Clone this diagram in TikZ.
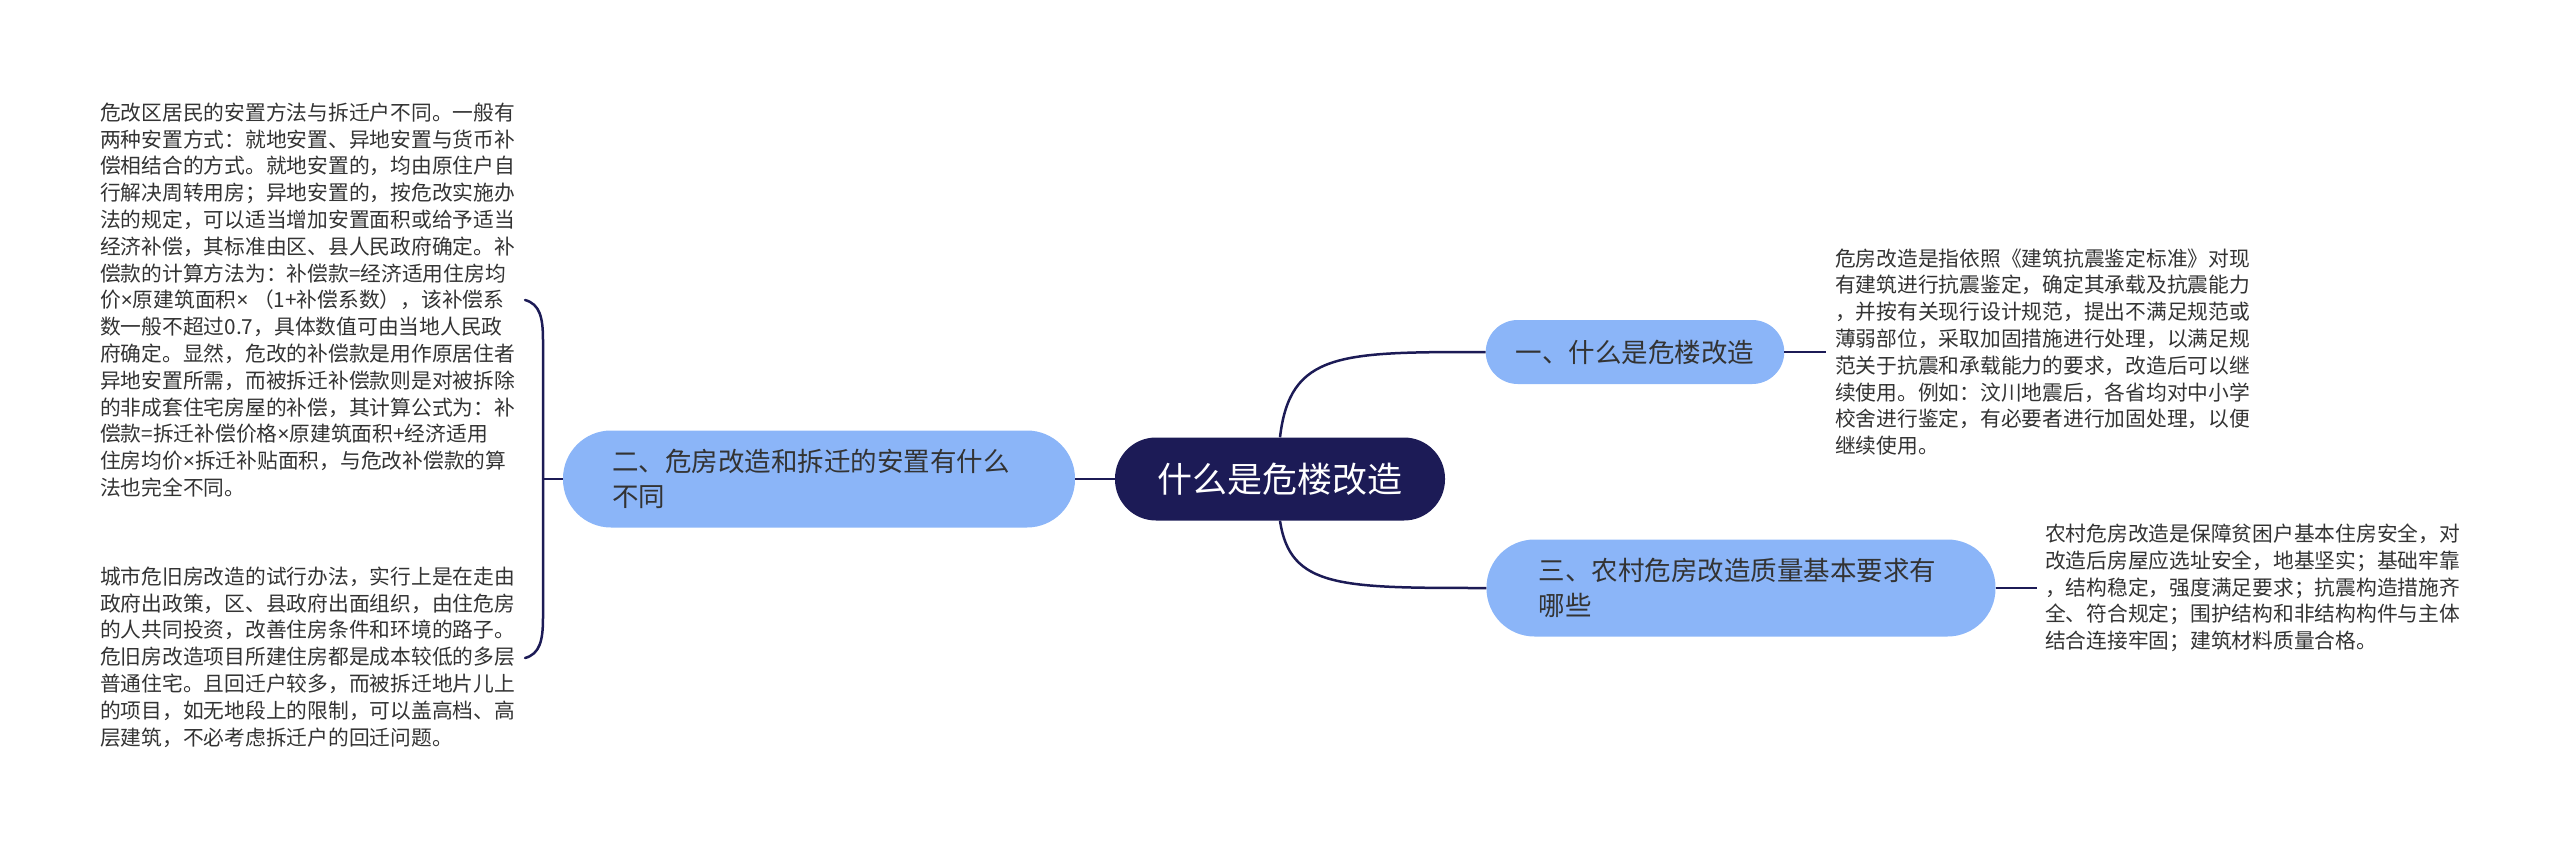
\documentclass[tikz,border=0pt]{standalone}
\usepackage{fontspec}
\setmainfont{Noto Sans CJK SC}
\newfontfamily\latinfont{Noto Sans}
\newcommand{\mul}{{\latinfont ×}}
\usetikzlibrary{positioning}

\definecolor{navy}{HTML}{1C1B56}
\definecolor{skyblue}{HTML}{8BB5F8}
\definecolor{inkgray}{HTML}{333333}

\begin{document}
\begin{tikzpicture}[x=1pt,y=-1pt,
  rootnode/.style={fill=navy, text=white, rounded corners=41pt, minimum width=330pt, minimum height=83pt, inner sep=0pt, font=\fontsize{35}{40}\selectfont},
  branch/.style={fill=skyblue, text=inkgray, align=left, inner ysep=0pt, font=\fontsize{26.5}{35}\selectfont},
  leaf/.style={text=inkgray, align=left, anchor=west, inner sep=0pt, font=\fontsize{20.75}{26.8}\selectfont},
  link/.style={draw=navy, line width=2.5pt}]
\useasboundingbox (0,0) rectangle (2560,851);

\node (root) at (1280,479) [rootnode] {什么是危楼改造};

\node (b1) at (1635,352) [branch, rounded corners=32pt, minimum height=64pt, inner xsep=30pt] {一、什么是危楼改造};
\node (b2) at (819,479) [branch, rounded corners=48pt, minimum height=97pt, text width=414pt, inner xsep=49pt] {二、危房改造和拆迁的安置有什么\\不同};
\node (b3) at (1741,588) [branch, rounded corners=48pt, minimum height=97pt, text width=405pt, inner xsep=52pt] {三、农村危房改造质量基本要求有\\哪些};

\node (t1) at (1835,352) [leaf] {危房改造是指依照《建筑抗震鉴定标准》对现\\有建筑进行抗震鉴定，确定其承载及抗震能力\\，并按有关现行设计规范，提出不满足规范或\\薄弱部位，采取加固措施进行处理，以满足规\\范关于抗震和承载能力的要求，改造后可以继\\续使用。例如：汶川地震后，各省均对中小学\\校舍进行鉴定，有必要者进行加固处理，以便\\继续使用。};
\node (t3) at (2045,588) [leaf] {农村危房改造是保障贫困户基本住房安全，对\\改造后房屋应选址安全，地基坚实；基础牢靠\\，结构稳定，强度满足要求；抗震构造措施齐\\全、符合规定；围护结构和非结构构件与主体\\结合连接牢固；建筑材料质量合格。};
\node (t2a) at (100,300) [leaf] {危改区居民的安置方法与拆迁户不同。一般有\\两种安置方式：就地安置、异地安置与货币补\\偿相结合的方式。就地安置的，均由原住户自\\行解决周转用房；异地安置的，按危改实施办\\法的规定，可以适当增加安置面积或给予适当\\经济补偿，其标准由区、县人民政府确定。补\\偿款的计算方法为：补偿款=经济适用住房均\\价\mul 原建筑面积\mul\ （1+补偿系数），该补偿系\\数一般不超过0.7，具体数值可由当地人民政\\府确定。显然，危改的补偿款是用作原居住者\\异地安置所需，而被拆迁补偿款则是对被拆除\\的非成套住宅房屋的补偿，其计算公式为：补\\偿款=拆迁补偿价格\mul 原建筑面积+经济适用\\住房均价\mul 拆迁补贴面积，与危改补偿款的算\\法也完全不同。};
\node (t2b) at (100,657) [leaf] {城市危旧房改造的试行办法，实行上是在走由\\政府出政策，区、县政府出面组织，由住危房\\的人共同投资，改善住房条件和环境的路子。\\危旧房改造项目所建住房都是成本较低的多层\\普通住宅。且回迁户较多，而被拆迁地片儿上\\的项目，如无地段上的限制，可以盖高档、高\\层建筑，不必考虑拆迁户的回迁问题。};

\coordinate (e1) at (1826,352);
\coordinate (e3) at (2037,588);
\coordinate (bm) at (543,479);
\coordinate (bt) at (525,300);
\coordinate (bb) at (525,658);

\draw[link] (root.north) .. controls (1290,352) and (1340,352) .. (b1.west);
\draw[link] (root.south) .. controls (1290,588) and (1340,588) .. (b3.west);
\draw[link] (root.west) -- (b2.east);
\draw[link] (b1.east) -- (e1);
\draw[link] (b3.east) -- (e3);

% brace to the two left texts
\draw[link] (b2.west) -- (bm);
\draw[link, line cap=round] (bt) .. controls (540,304) and (543,318) .. (543,340) -- (543,618) .. controls (543,640) and (540,654) .. (bb);
\end{tikzpicture}
\end{document}
